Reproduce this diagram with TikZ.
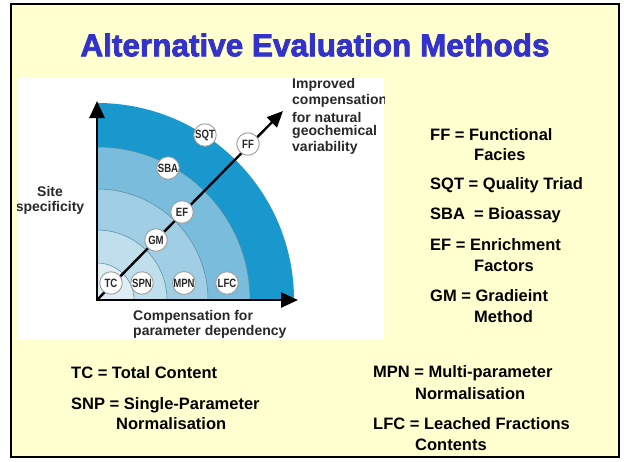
\documentclass[tikz,border=0pt]{standalone}
\usepackage{fontspec}
\usepackage{graphicx}
\setmainfont{Liberation Sans}
\newfontfamily\titlefont{Liberation Sans}[BoldFeatures={FakeBold=2.4}]
\usetikzlibrary{arrows.meta}
\definecolor{bgyellow}{RGB}{255,255,208}
\definecolor{titleblue}{RGB}{51,51,204}
\definecolor{bandA}{RGB}{24,152,204}
\definecolor{bandB}{RGB}{122,188,220}
\definecolor{bandC}{RGB}{160,206,228}
\definecolor{bandD}{RGB}{192,223,236}
\definecolor{bandE}{RGB}{222,238,244}
\definecolor{txtgray}{RGB}{40,40,40}
\newcommand{\mlab}[1]{\scalebox{0.8}[1]{#1}}
\tikzset{
  legend/.style={anchor=west, inner sep=0pt, font=\fontsize{16.5}{18}\selectfont\bfseries, text=black},
  diagtext/.style={anchor=west, inner sep=0pt, font=\fontsize{14}{15}\selectfont\bfseries, text=txtgray},
  meth/.style={circle, draw=gray!75, line width=0.9pt, fill=white, minimum size=22.5pt, inner sep=0pt,
    font=\fontsize{12}{12}\selectfont\bfseries, text=txtgray},
  band/.style={draw=gray!60!bandA, line width=0.5pt},
  axis/.style={line width=2.6pt, -{Triangle[width=15pt,length=17pt]}}
}
\begin{document}
\begin{tikzpicture}[x=1pt,y=-1pt]
\useasboundingbox (0,0) rectangle (624,461);
\fill[white] (0,0) rectangle (624,461);
\draw[line width=2pt, fill=bgyellow] (11,4) rectangle (619,457);
% title
\node[font=\titlefont\bfseries\fontsize{31.5}{34}\selectfont, text=titleblue, inner sep=0pt] (title) at (315,45) {Alternative Evaluation Methods};
% picture area
\fill[white] (17,78) rectangle (384,339);
\begin{scope}
\clip (17,78) rectangle (384,339);
\coordinate (O) at (97,300);
\fill[bandA] (O) -- ++(197,0) arc[start angle=0, end angle=-90, radius=197] -- cycle;
\draw[band, fill=bandB] (O) -- ++(153,0) arc[start angle=0, end angle=-90, radius=153] -- cycle;
\draw[band, fill=bandC] (O) -- ++(111,0) arc[start angle=0, end angle=-90, radius=111] -- cycle;
\draw[band, fill=bandD] (O) -- ++(70,0) arc[start angle=0, end angle=-90, radius=70] -- cycle;
\draw[band, fill=bandE] (O) -- ++(37,0) arc[start angle=0, end angle=-90, radius=37] -- cycle;
\coordinate (ytip) at (97,101);
\coordinate (xtip) at (298,300);
\coordinate (dtip) at (283,111);
\draw[axis] (97,301.3) -- (ytip);
\draw[axis] (95.7,300) -- (xtip);
\draw[line width=2.4pt, -{Triangle[width=14pt,length=16pt]}] (O) -- (dtip);
\node[meth] (TC) at (111,283) {\mlab{TC}};
\node[meth] (SPN) at (142,283) {\mlab{SPN}};
\node[meth] (MPN) at (184,283) {\mlab{MPN}};
\node[meth] (LFC) at (227,283) {\mlab{LFC}};
\node[meth] (GM) at (156,240) {\mlab{GM}};
\node[meth] (EF) at (182,212) {\mlab{EF}};
\node[meth] (SBA) at (168,168) {\mlab{SBA}};
\node[meth] (SQT) at (205,135) {\mlab{SQT}};
\node[meth] (FF) at (248,144) {\mlab{FF}};
\node[font=\fontsize{14}{15}\selectfont\bfseries, text=txtgray, inner sep=0pt] (site) at (50,191) {Site};
\node[font=\fontsize{14}{15}\selectfont\bfseries, text=txtgray, inner sep=0pt] (spec) at (50,208) {specificity};
\node[diagtext] (comp1) at (133,317) {Compensation for};
\node[diagtext] (comp2) at (133,332) {parameter dependency};
\node[diagtext] (imp1) at (292,85) {Improved};
\node[diagtext] (imp2) at (292,101) {compensation};
\node[diagtext] (imp3) at (292,117) {for natural};
\node[diagtext] (imp4) at (292,132) {geochemical};
\node[diagtext] (imp5) at (292,148) {variability};
\end{scope}
% right legend
\node[legend] (l1) at (430,135) {FF = Functional};
\node[legend] (l1b) at (474,155) {Facies};
\node[legend] (l2) at (430,185) {SQT = Quality Triad};
\node[legend] (l3) at (430,215) {SBA\ \ = Bioassay};
\node[legend] (l4) at (430,245) {EF = Enrichment};
\node[legend] (l4b) at (474,266) {Factors};
\node[legend] (l5) at (430,296) {GM = Gradieint};
\node[legend] (l5b) at (474,317) {Method};
% bottom legend
\node[legend] (b1) at (71,373) {TC = Total Content};
\node[legend] (b2) at (71,405) {SNP = Single-Parameter};
\node[legend] (b2b) at (116,424) {Normalisation};
\node[legend] (b3) at (373,373) {MPN = Multi-parameter};
\node[legend] (b3b) at (415,394) {Normalisation};
\node[legend] (b4) at (373,424) {LFC = Leached Fractions};
\node[legend] (b4b) at (415,445) {Contents};
\end{tikzpicture}
\end{document}
